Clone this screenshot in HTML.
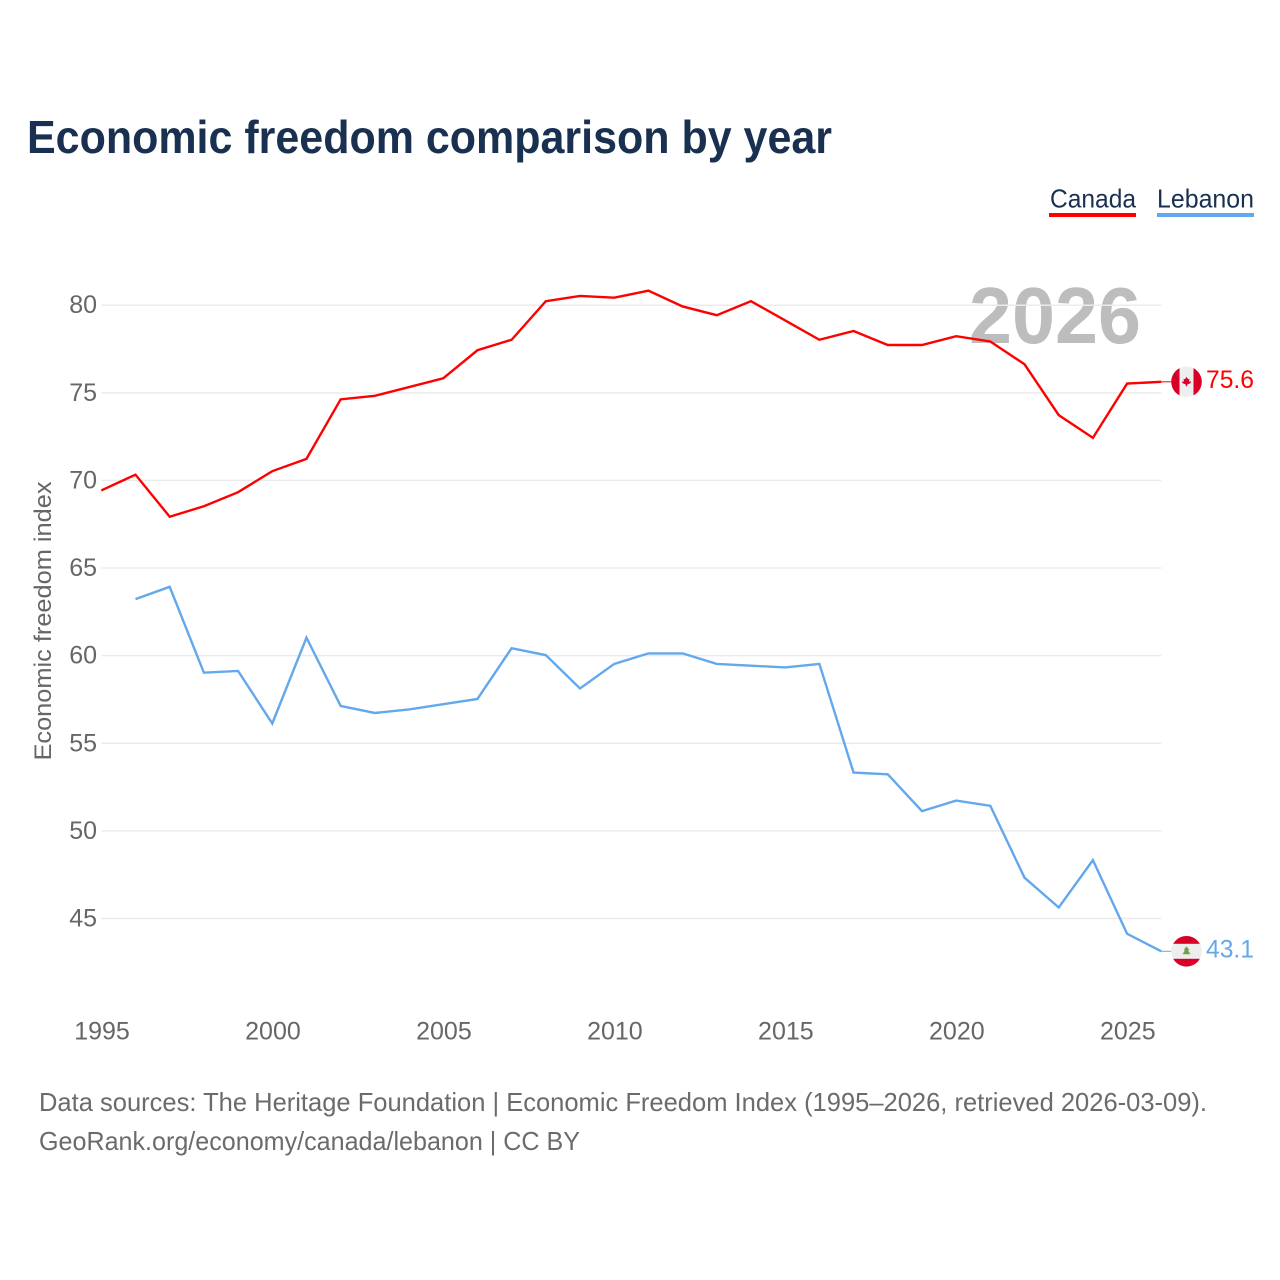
<!DOCTYPE html>
<html lang="en">
<head>
<meta charset="utf-8">
<title>Economic freedom comparison by year</title>
<style>
html,body{margin:0;padding:0;background:#fff;width:1280px;height:1280px;overflow:hidden}
svg{display:block;font-family:"Liberation Sans",sans-serif}
</style>
</head>
<body>
<svg id="chart" width="1280" height="1280" viewBox="0 0 1280 1280" xmlns="http://www.w3.org/2000/svg">
  <rect width="1280" height="1280" fill="#fff"/>
  <text x="27" y="153" font-size="46" font-weight="700" fill="#1a3050" textLength="805" lengthAdjust="spacingAndGlyphs">Economic freedom comparison by year</text>
  <g>
    <g>
      <text x="1050" y="207.5" font-size="26" fill="#1a3050" textLength="86" lengthAdjust="spacingAndGlyphs">Canada</text>
      <rect x="1049" y="213" width="87" height="4" fill="#ff0000"/>
    </g>
    <g>
      <text x="1157" y="207.5" font-size="26" fill="#1a3050" textLength="97" lengthAdjust="spacingAndGlyphs">Lebanon</text>
      <rect x="1157" y="213" width="97" height="4" fill="#63a8ec"/>
    </g>
  </g>
  <text x="969" y="343" font-size="80" font-weight="700" fill="#bdbdbd" textLength="172" lengthAdjust="spacingAndGlyphs">2026</text>
  <g id="grid"></g>
  <g id="yticks"></g>
  <g id="xticks"></g>
  <text transform="translate(51 621) rotate(-90)" text-anchor="middle" font-size="24" fill="#666" textLength="279" lengthAdjust="spacingAndGlyphs">Economic freedom index</text>
  <g id="series" transform="translate(0 -0.5)"></g>
  <g id="flag-canada">
    <clipPath id="clip-ca"><circle cx="0" cy="0" r="15.3"/></clipPath>
    <g clip-path="url(#clip-ca)">
      <rect x="-16" y="-16" width="32" height="32" fill="#eeeeee"/>
      <rect x="-16" y="-16" width="9" height="32" fill="#d80027"/>
      <rect x="7" y="-16" width="9" height="32" fill="#d80027"/>
      <polygon points="0,-5 1.5,-2.5 3,-3 2.5,0 4.5,-0.5 4,1.5 1,2.5 0.5,4.5 -0.5,4.5 -1,2.5 -4,1.5 -4.5,-0.5 -2.5,0 -3,-3 -1.5,-2.5" fill="#d80027"/>
    </g>
  </g>
  <g id="flag-lebanon">
    <clipPath id="clip-lb"><circle cx="0" cy="0" r="15.3"/></clipPath>
    <g clip-path="url(#clip-lb)">
      <rect x="-16" y="-16" width="32" height="32" fill="#eeeeee"/>
      <rect x="-16" y="-16" width="32" height="8.5" fill="#d80027"/>
      <rect x="-16" y="7.5" width="32" height="8.5" fill="#d80027"/>
      <polygon points="0,-5 3,-1 1.5,-1 4,3 -4,3 -1.5,-1 -3,-1" fill="#6da544"/>
    </g>
  </g>
  <text id="value-canada" x="1206" y="388" font-size="25" fill="#ff0000" textLength="48" lengthAdjust="spacingAndGlyphs"></text>
  <text id="value-lebanon" x="1206" y="957" font-size="25" fill="#63a8ec" textLength="48" lengthAdjust="spacingAndGlyphs"></text>
  <g>
    <text x="39" y="1111" font-size="26" fill="#6b6b6b" textLength="1168" lengthAdjust="spacingAndGlyphs">Data sources: The Heritage Foundation | Economic Freedom Index (1995–2026, retrieved 2026-03-09).</text>
    <text x="39" y="1150" font-size="26" fill="#6b6b6b" textLength="541" lengthAdjust="spacingAndGlyphs">GeoRank.org/economy/canada/lebanon | CC BY</text>
  </g>
</svg>
<script>
const years = [1995,1996,1997,1998,1999,2000,2001,2002,2003,2004,2005,2006,2007,2008,2009,2010,2011,2012,2013,2014,2015,2016,2017,2018,2019,2020,2021,2022,2023,2024,2025,2026];
const canadaValues = [69.4,70.3,67.9,68.5,69.3,70.5,71.2,74.6,74.8,75.3,75.8,77.4,78.0,80.2,80.5,80.4,80.8,79.9,79.4,80.2,79.1,78.0,78.5,77.7,77.7,78.2,77.9,76.6,73.7,72.4,75.5,75.6];
const lebanonValues = [null,63.2,63.9,59.0,59.1,56.1,61.0,57.1,56.7,56.9,57.2,57.5,60.4,60.0,58.1,59.5,60.1,60.1,59.5,59.4,59.3,59.5,53.3,53.2,51.1,51.7,51.4,47.3,45.6,48.3,44.1,43.1];
const yTickValues = [45,50,55,60,65,70,75,80];
const xTickValues = [1995,2000,2005,2010,2015,2020,2025];

const NS = 'http://www.w3.org/2000/svg';
function xScale(year){ return 101.3 + (year - 1995) * (1161.3 - 101.3) / (2026 - 1995); }
function yScale(v){ return 305.2 + (80 - v) * (918.5 - 305.2) / 35; }

const grid = document.getElementById('grid');
const yticks = document.getElementById('yticks');
const xticks = document.getElementById('xticks');
const series = document.getElementById('series');

yTickValues.forEach(function(v){
  const line = document.createElementNS(NS, 'line');
  
  
  line.setAttribute('x1', xScale(1995));
  line.setAttribute('x2', xScale(2026));
  line.setAttribute('y1', yScale(v));
  line.setAttribute('y2', yScale(v));
  line.setAttribute('stroke', '#ebebeb');
  line.setAttribute('stroke-width', '1.5');
  grid.appendChild(line);

  const t = document.createElementNS(NS, 'text');
  
  
  t.setAttribute('x', 97);
  t.setAttribute('y', yScale(v) + 8);
  t.setAttribute('text-anchor', 'end');
  t.setAttribute('font-size', '25');
  t.setAttribute('fill', '#666');
  t.textContent = v;
  yticks.appendChild(t);
});

xTickValues.forEach(function(y){
  const t = document.createElementNS(NS, 'text');
  
  
  t.setAttribute('x', xScale(y) + 0.7);
  t.setAttribute('y', 1039.5);
  t.setAttribute('text-anchor', 'middle');
  t.setAttribute('font-size', '25');
  t.setAttribute('fill', '#666');
  t.textContent = y;
  xticks.appendChild(t);
});

function pathFor(values){
  const pts = [];
  values.forEach(function(v, i){
    if (v !== null) pts.push(xScale(years[i]).toFixed(2) + ',' + yScale(v).toFixed(2));
  });
  return 'M' + pts.join('L');
}

const lebanonLine = document.createElementNS(NS, 'path');


lebanonLine.setAttribute('d', pathFor(lebanonValues));
lebanonLine.setAttribute('fill', 'none');
lebanonLine.setAttribute('stroke', '#63a8ec');
lebanonLine.setAttribute('stroke-width', '2.4');
series.appendChild(lebanonLine);

const canadaLine = document.createElementNS(NS, 'path');


canadaLine.setAttribute('d', pathFor(canadaValues));
canadaLine.setAttribute('fill', 'none');
canadaLine.setAttribute('stroke', '#ff0000');
canadaLine.setAttribute('stroke-width', '2.4');
series.appendChild(canadaLine);

const lastCanada = canadaValues[canadaValues.length - 1];
const lastLebanon = lebanonValues[lebanonValues.length - 1];

const leaderCanada = document.createElementNS(NS, 'line');


leaderCanada.setAttribute('x1', xScale(2026));
leaderCanada.setAttribute('x2', 1172);
leaderCanada.setAttribute('y1', yScale(lastCanada));
leaderCanada.setAttribute('y2', yScale(lastCanada));
leaderCanada.setAttribute('stroke', '#ff0000');
leaderCanada.setAttribute('stroke-width', '1');
series.appendChild(leaderCanada);

const leaderLebanon = document.createElementNS(NS, 'line');


leaderLebanon.setAttribute('x1', xScale(2026));
leaderLebanon.setAttribute('x2', 1172);
leaderLebanon.setAttribute('y1', yScale(lastLebanon));
leaderLebanon.setAttribute('y2', yScale(lastLebanon));
leaderLebanon.setAttribute('stroke', '#63a8ec');
leaderLebanon.setAttribute('stroke-width', '1');
series.appendChild(leaderLebanon);

document.getElementById('flag-canada').setAttribute('transform', 'translate(1186.5 ' + (yScale(lastCanada) - 0.5).toFixed(1) + ')');
document.getElementById('flag-lebanon').setAttribute('transform', 'translate(1186.5 ' + (yScale(lastLebanon) - 0.5).toFixed(1) + ')');

const valueCanada = document.getElementById('value-canada');
valueCanada.textContent = lastCanada.toFixed(1);
valueCanada.setAttribute('y', yScale(lastCanada) + 5.5);
const valueLebanon = document.getElementById('value-lebanon');
valueLebanon.textContent = lastLebanon.toFixed(1);
valueLebanon.setAttribute('y', yScale(lastLebanon) + 5.5);
</script>
</body>
</html>
